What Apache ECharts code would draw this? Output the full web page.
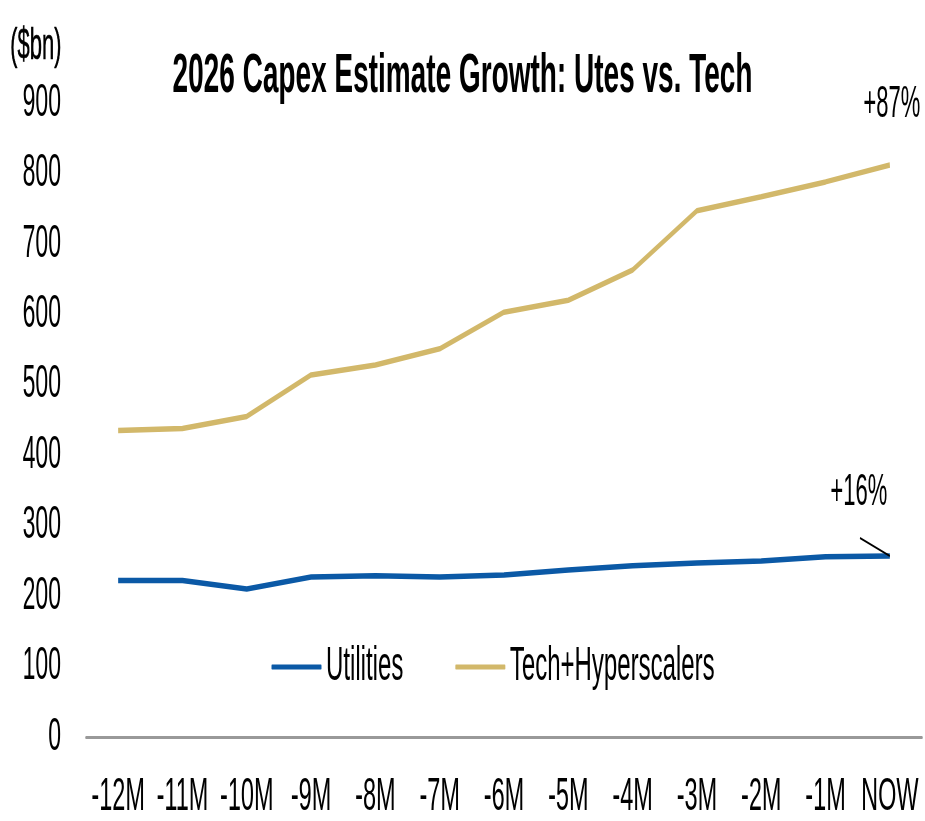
<!DOCTYPE html>
<html>
<head>
<meta charset="utf-8">
<title>2026 Capex Estimate Growth</title>
<script src="https://cdn.jsdelivr.net/npm/echarts@6/dist/echarts.min.js"></script>
<style>
	html, body { margin: 0; padding: 0; background: #fff; overflow: hidden; }
	/* the reference type is very condensed: draw at double width, then squeeze */
	#main { width: 1850px; height: 821px; transform: scaleX(0.5); transform-origin: 0 0; }
</style>
</head>
<body>
<div id="main"></div>
<script type="text/javascript">
	var months = ['-12M', '-11M', '-10M', '-9M', '-8M', '-7M', '-6M', '-5M', '-4M', '-3M', '-2M', '-1M', 'NOW'];
	var utilities = [222, 222, 210, 227, 229, 227, 230, 237, 243, 247, 250, 256, 257];
	var tech = [435, 438, 455, 514, 528, 551, 603, 620, 663, 747, 767, 788, 812];
	var yTicks = [0, 100, 200, 300, 400, 500, 600, 700, 800, 900];

	var font = '"Liberation Sans", Arial, sans-serif';

	var option = {
		backgroundColor: '#fff',
		animation: false,
		title: {
			text: '2026 Capex Estimate Growth: Utes vs. Tech',
			left: 'center',
			top: 44,
			textStyle: {
				fontFamily: font,
				fontWeight: 'bold',
				fontSize: 56,
				color: '#000'
			}
		},
		graphic: [{
			type: 'text',
			left: 20,
			top: 25,
			style: { text: '($bn)', font: '44px ' + font, fill: '#000', stroke: '#000', lineWidth: 0.6 }
		}],
		legend: {
			data: ['Utilities', 'Tech+Hyperscalers'],
			top: 638,
			left: 538,
			itemWidth: 100,
			itemHeight: 5,
			itemGap: 104,
			icon: 'roundRect',
			textStyle: { fontFamily: font, fontSize: 48, color: '#000', padding: [0, 0, 0, 4] }
		},
		grid: { left: 172, right: 6, top: 103, bottom: 81 },
		xAxis: {
			type: 'category',
			data: months,
			boundaryGap: true,
			axisLine: { lineStyle: { color: '#999', width: 3 } },
			axisTick: { show: false },
			axisLabel: {
				interval: 0,
				margin: 37,
				fontFamily: font,
				fontSize: 47,
				color: '#000'
			}
		},
		yAxis: {
			type: 'value',
			min: yTicks[0],
			max: yTicks[yTicks.length - 1],
			interval: 100,
			splitLine: { show: false },
			axisLine: { show: false },
			axisTick: { show: false },
			axisLabel: {
				margin: 50,
				fontFamily: font,
				fontSize: 46,
				color: '#000'
			}
		},
		series: [{
			name: 'Utilities',
			type: 'line',
			data: utilities,
			symbol: 'none',
			color: '#0b59a6',
			lineStyle: { width: 5.5, color: '#0b59a6' },
			markPoint: {
				symbol: 'circle',
				symbolSize: 0,
				data: [{ coord: ['NOW', 257], value: '+16%' }],
				label: {
					show: true,
					formatter: '+16%',
					offset: [-62, -63],
					fontFamily: font,
					fontSize: 44,
					color: '#000'
				}
			},
			markLine: {
				silent: true,
				symbol: 'none',
				label: { show: false },
				lineStyle: { color: '#000', width: 2, type: 'solid' },
				data: [[{ x: 1720, y: 538 }, { coord: ['NOW', 257] }]]
			}
		}, {
			name: 'Tech+Hyperscalers',
			type: 'line',
			data: tech,
			symbol: 'none',
			color: '#d2b86a',
			lineStyle: { width: 5.5, color: '#d2b86a' },
			markPoint: {
				symbol: 'circle',
				symbolSize: 0,
				data: [{ coord: ['NOW', 812], value: '+87%' }],
				label: {
					show: true,
					formatter: '+87%',
					offset: [4, -60],
					fontFamily: font,
					fontSize: 44,
					color: '#000'
				}
			}
		}]
	};

	var myChart = echarts.init(document.getElementById('main'));
	myChart.setOption(option);
</script>
</body>
</html>
